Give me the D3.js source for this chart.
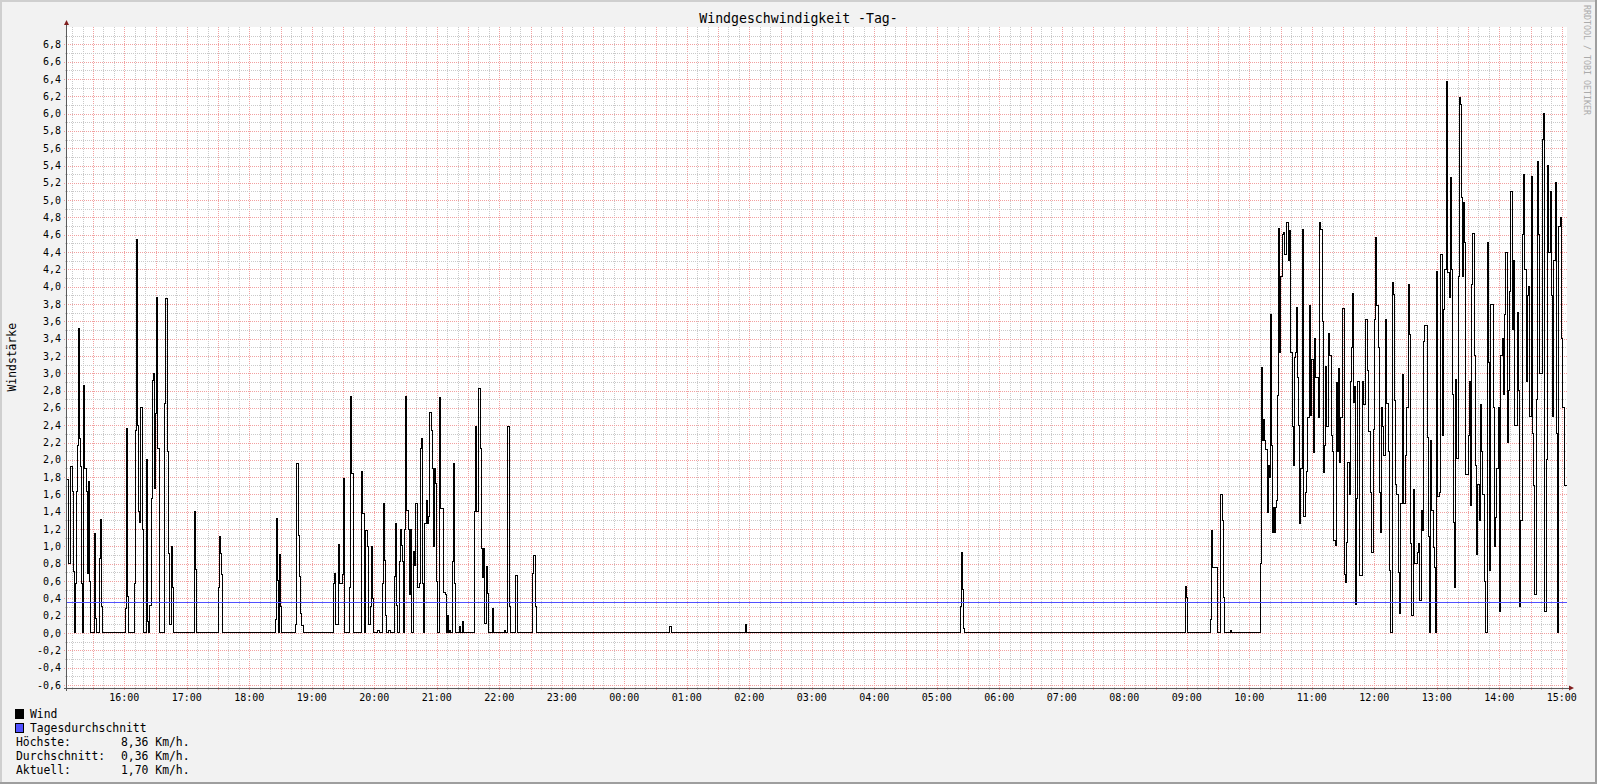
<!DOCTYPE html>
<html><head><meta charset="utf-8">
<script src="https://cdn.jsdelivr.net/npm/d3@7"></script>
<style>
html,body{margin:0;padding:0;background:#F2F2F2;}
svg{display:block;}
text{font-family:"DejaVu Sans Mono",monospace;fill:#000;}
</style></head><body>
<svg id="chart" width="1597" height="784"></svg>
<script>
// ---------------- data ----------------
const chartTitle = "Windgeschwindigkeit -Tag-";
const yAxisTitle = "Windstärke";
const watermark = "RRDTOOL / TOBI OETIKER";
const windowStart = [15, 5];      // 24 h window starts 15:05
const windowMinutes = 1440;
const yDomain = [-0.63, 7.0];
const yTicks = [-0.6,-0.4,-0.2,0.0,0.2,0.4,0.6,0.8,1.0,1.2,1.4,1.6,1.8,2.0,2.2,2.4,2.6,2.8,3.0,3.2,3.4,3.6,3.8,4.0,4.2,4.4,4.6,4.8,5.0,5.2,5.4,5.6,5.8,6.0,6.2,6.4,6.6,6.8];
const hourLabels = ["16:00","17:00","18:00","19:00","20:00","21:00","22:00","23:00","00:00","01:00","02:00","03:00","04:00","05:00","06:00","07:00","08:00","09:00","10:00","11:00","12:00","13:00","14:00","15:00"];
const dailyAverage = 0.36;
const legendNames = ["Wind", "Tagesdurchschnitt"];
const legendColors = ["#000000", "#5050ff"];
const statLabels = ["Höchste:", "Durchschnitt:", "Aktuell:"];
const statValues = ["8,36 Km/h.", "0,36 Km/h.", "1,70 Km/h."];
// wind: [minutes after window start, value] — value holds until next entry
const wind = [
 [0,1.77],[1,0.8],[3,1.92],[5,1.63],[6,0.71],[7,0],[8,0.57],[9,1.63],[10,2.17],[11,3.52],[12,2.25],[13,1.92],[14,0.57],[15,0],
 [16,2.86],[17,1.9],[19,1.63],[20,0.69],[21,1.75],[22,0.59],[23,0],[26,1.15],[27,0.17],[28,0],[31,0.86],[32,1.31],[33,0.3],[34,0],
 [56,0.28],[57,2.36],[58,0.42],[59,0],[65,0.57],[66,2.34],[67,4.55],[68,2.4],[69,1.4],[70,1.28],[71,2.6],[72,1.2],[73,0],
 [76,2.0],[77,0.13],[78,0],[79,0.32],[81,1.55],[82,2.92],[83,3.0],[84,1.67],[85,2.53],[86,3.88],[87,2.13],[89,0],
 [94,2.65],[95,3.86],[96,2.1],[97,0.92],[98,0.1],[100,1.0],[101,0.52],[102,0],[122,1.4],[123,0.73],[124,0],
 [145,0.52],[146,1.11],[147,0.92],[148,0.67],[149,0],
 [200,0.15],[201,1.32],[202,0.61],[203,0],[204,0.91],[205,0.3],[206,0],
 [219,0.1],[220,1.96],[222,1.13],[223,0.65],[224,0.23],[225,0.09],[227,0],
 [256,0.57],[257,0.69],[258,0.1],[261,1.02],[262,0.57],[264,0.67],[265,1.78],[266,0],[271,0.53],[272,2.73],[273,1.84],[275,0],
 [283,1.86],[284,1.38],[286,0],[287,1.18],[288,1.0],[289,0.1],[291,0.3],[292,1.0],[293,0.4],[294,0],[298,0.03],[300,0],[303,0.57],[304,1.5],
 [305,0.84],[306,0.2],[307,0],[309,0.03],[311,0],[314,0.65],[315,1.26],[316,0.32],[317,0],[319,0.82],[320,1.2],[321,1.01],[322,0.82],[323,0],
 [324,1.19],[325,2.73],[326,1.42],[328,1.2],[329,0.44],[330,1.2],[331,0],[333,0.94],[334,0.78],[335,1.5],[336,0.52],[338,0.57],[339,2.13],[340,2.25],[341,0.57],[342,0],
 [343,1.27],[345,1.53],[346,1.26],[347,1.35],[348,2.55],[350,2.34],[351,1.9],[352,1.0],[353,1.9],[354,1.73],[355,0.59],[356,0],
 [358,2.72],[359,1.44],[361,0.47],[363,0.44],[364,0],[365,0.2],[366,0],[367,0.03],[368,0],[370,0.82],[371,1.96],[372,0.57],[373,0],
 [377,0.07],[378,0],[380,0.13],[381,0],[391,1.4],[392,2.38],[393,1.4],[395,2.82],[397,2.13],[398,0.98],[399,0.64],[400,0.98],[401,0.11],
 [403,0.77],[404,0.46],[405,0],[408,0.28],[409,0],[420,0.03],[421,0],[423,2.38],[425,0.3],[426,0],[431,0.66],[432,0],
 [447,0.69],[448,0.89],[450,0.3],[451,0],
 [578,0.07],[580,0],[651,0.1],[652,0],[858,0.3],[859,0.93],[860,0.5],[861,0.05],[862,0],
 [1074,0.54],[1075,0.41],[1076,0],[1098,0.15],[1099,1.18],[1100,0.76],[1104,0],[1107,1.6],[1109,1.3],[1110,0.41],[1111,0],[1117,0.03],[1118,0],
 [1146,0.8],[1147,3.07],[1148,2.22],[1149,2.47],[1150,2.22],[1151,2.12],[1152,1.39],[1153,1.93],[1154,1.8],[1155,3.68],[1156,2.16],[1157,1.16],
 [1158,1.45],[1159,1.16],[1160,1.45],[1161,1.53],[1162,2.74],[1163,4.67],[1164,3.24],[1165,4.12],[1167,4.6],[1168,4.63],[1169,4.37],[1171,4.74],
 [1173,4.3],[1174,4.65],[1175,3.24],[1176,2.39],[1177,1.93],[1178,3.18],
 [1179,3.24],[1180,3.76],[1181,2.95],[1182,2.4],[1183,1.26],[1184,1.9],[1186,4.66],[1187,1.35],[1189,1.62],[1190,1.87],[1191,2.49],[1193,3.78],
 [1194,2.51],[1195,3.16],[1197,2.08],[1198,3.4],[1199,2.95],[1201,2.49],[1202,4.74],[1203,4.66],[1205,3.6],[1206,1.85],[1207,2.16],[1208,3.08],
 [1209,2.39],[1211,3.46],[1212,3.2],[1214,2.28],[1215,2.1],[1216,1.07],[1218,1.01],[1219,2.89],[1220,2.1],[1221,3.05],[1222,1.97],[1223,2.49],
 [1224,3.75],[1226,0.68],[1227,0.58],[1228,1.05],[1229,1.97],[1231,1.6],[1232,2.91],[1233,3.3],[1234,3.92],[1235,2.66],[1236,2.85],[1237,0.33],
 [1238,1.55],[1239,2.91],[1241,0.66],[1244,2.91],[1245,2.64],[1247,3.62],[1248,3.03],[1249,2.33],[1251,1.62],[1252,0.93],[1254,2.35],[1255,3.62],
 [1256,4.57],[1257,3.78],[1259,3.3],[1260,1.62],[1261,1.16],[1262,2.6],[1263,2.39],[1264,2.05],[1266,3.62],[1267,2.65],[1269,2.1],[1270,0.72],
 [1271,0],[1272,4.05],[1273,3.91],[1274,2.68],[1275,1.72],[1276,1.6],[1278,0.7],[1279,0.22],[1280,1.5],[1282,2.99],[1283,1.49],[1285,2.05],
 [1286,2.6],[1288,4.03],[1289,3.45],[1290,1.03],[1291,0.2],[1293,1.66],[1294,0.8],[1296,0.93],[1297,1.03],[1298,0.37],[1300,1.41],[1301,1.18],
 [1302,3.37],[1303,3.55],[1306,2.26],[1307,1.12],[1308,0.0],[1309,2.22],[1310,1.41],[1312,0.99],[1313,0.76],[1314,0],[1315,4.17],[1316,1.58],
 [1318,1.62],[1319,4.37],[1320,2.28],[1321,3.74],[1322,4.2],[1324,6.37],[1325,4.16],[1327,3.87],[1328,5.26],[1329,4.2],[1330,2.76],[1331,1.28],
 [1332,0.53],[1333,2.93],[1334,2.01],[1336,4.12],[1337,6.18],[1338,6.1],[1339,5.03],[1340,4.12],[1341,4.97],[1342,4.51],[1343,1.83],[1345,2.28],
 [1346,2.91],[1347,1.47],[1348,4.03],[1349,4.62],[1351,3.2],[1352,1.93],[1353,0.91],[1354,1.72],[1356,1.3],[1357,2.64],[1358,2.1],[1359,1.6],
 [1361,0.6],[1362,0],[1364,4.51],[1365,3.12],[1366,0.72],[1367,3.8],[1369,2.6],[1370,1.0],[1371,1.33],[1372,1.9],[1374,2.6],[1375,0.25],
 [1376,3.2],[1378,3.4],[1379,2.75],[1380,3.68],[1381,4.4],[1383,2.2],[1384,2.8],[1385,3.95],[1386,5.1],[1388,3.5],[1389,4.3],[1390,2.4],
 [1392,3.7],[1393,2.8],[1394,0.3],[1395,1.3],[1397,4.6],[1398,5.3],[1399,4.2],[1401,2.9],[1402,3.9],[1403,4.0],[1404,2.5],[1406,5.27],
 [1407,2.3],[1408,1.7],[1409,0.45],[1411,2.7],[1412,5.45],[1413,4.6],[1414,3.0],[1416,5.7],[1417,6.0],[1418,0.25],[1420,2.0],[1421,5.4],
 [1422,4.4],[1424,5.1],[1425,3.9],[1426,2.5],[1427,4.3],[1429,5.2],[1430,2.3],[1431,0.0],[1432,4.7],[1434,4.8],[1435,3.4],[1436,2.6],[1438,1.7]
];

// ---------------- drawing ----------------
const W = 1597, H = 784;
const plot = {left: 67, right: 1567, top: 27, bottom: 687.5};
const t0 = new Date(2021, 5, 1, windowStart[0], windowStart[1]);
const t1 = d3.timeMinute.offset(t0, windowMinutes);
const tAt = m => d3.timeMinute.offset(t0, m);

const x = d3.scaleTime().domain([t0, t1]).range([plot.left, plot.right]);
const y = d3.scaleLinear().domain(yDomain).range([plot.bottom, plot.top]);
const fmt = d3.formatLocale({decimal: ",", thousands: ".", grouping: [3], currency: ["", ""], minus: "-"}).format(".1f");
const px = v => Math.round(v) + 0.5;

const svg = d3.select("#chart");
svg.append("rect").attr("width", W).attr("height", H).attr("fill", "#F2F2F2");
svg.append("rect").attr("x", 0).attr("y", 0).attr("width", W).attr("height", 2).attr("fill", "#CFCFCF");
svg.append("rect").attr("x", 0).attr("y", 0).attr("width", 2).attr("height", H).attr("fill", "#CFCFCF");
svg.append("rect").attr("x", 0).attr("y", H - 2).attr("width", W).attr("height", 2).attr("fill", "#9E9E9E");
svg.append("rect").attr("x", W - 2).attr("y", 0).attr("width", 2).attr("height", H).attr("fill", "#9E9E9E");

svg.append("rect").attr("x", plot.left).attr("y", plot.top)
  .attr("width", plot.right - plot.left).attr("height", plot.bottom - plot.top).attr("fill", "#FFFFFF");

const minorCol = "#c9c9c9", majorCol = "#f2a0a0";
const grid = svg.append("g").attr("shape-rendering", "crispEdges").attr("stroke-dasharray", "1,1").attr("fill", "none");

// vertical grid
const minorT = d3.timeMinute.every(10).range(t0, t1);
const majorT = d3.timeMinute.every(30).range(t0, t1);
const majorSet = new Set(majorT.map(d => +d));
grid.selectAll("line.vmin").data(minorT.filter(d => !majorSet.has(+d))).join("line")
  .attr("x1", d => px(x(d))).attr("x2", d => px(x(d)))
  .attr("y1", plot.top).attr("y2", plot.bottom + 2).attr("stroke", minorCol);
grid.selectAll("line.vmaj").data(majorT).join("line")
  .attr("x1", d => px(x(d))).attr("x2", d => px(x(d)))
  .attr("y1", plot.top).attr("y2", plot.bottom + 3).attr("stroke", majorCol);

// horizontal grid
const minorY = yTicks.slice(0, -1).map((v, i) => (v + yTicks[i + 1]) / 2).concat([yTicks[yTicks.length - 1] + 0.1]);
grid.selectAll("line.hmin").data(minorY).join("line")
  .attr("y1", d => px(y(d))).attr("y2", d => px(y(d)))
  .attr("x1", plot.left - 2).attr("x2", plot.right).attr("stroke", minorCol);
grid.selectAll("line.hmaj").data(yTicks).join("line")
  .attr("y1", d => px(y(d))).attr("y2", d => px(y(d)))
  .attr("x1", plot.left - 3).attr("x2", plot.right).attr("stroke", majorCol);

// axes
const axisCol = "#5a5a5a";
svg.append("line").attr("x1", plot.left - 3).attr("x2", plot.right + 2)
  .attr("y1", px(plot.bottom)).attr("y2", px(plot.bottom)).attr("stroke", axisCol).attr("shape-rendering", "crispEdges");
svg.append("line").attr("x1", plot.left - 0.5).attr("x2", plot.left - 0.5)
  .attr("y1", plot.bottom + 3).attr("y2", plot.top - 3).attr("stroke", axisCol).attr("shape-rendering", "crispEdges");
svg.append("path").attr("fill", "#801F1F")
  .attr("d", `M${plot.left - 3},${plot.top - 2} L${plot.left + 2},${plot.top - 2} L${plot.left - 0.5},${plot.top - 7} Z`);
svg.append("path").attr("fill", "#801F1F")
  .attr("d", `M${plot.right + 2},${plot.bottom - 2} L${plot.right + 2},${plot.bottom + 3} L${plot.right + 7},${plot.bottom + 0.5} Z`);

// y labels
svg.append("g").selectAll("text").data(yTicks).join("text")
  .attr("x", 61).attr("y", d => y(d) + 3.6).attr("text-anchor", "end")
  .style("font-size", "10px").text(d => fmt(d));

// x labels
const hours = d3.timeHour.range(t0, t1);
svg.append("g").selectAll("text").data(hours).join("text")
  .attr("x", d => x(d)).attr("y", 701).attr("text-anchor", "middle")
  .style("font-size", "10px").text((d, i) => hourLabels[i]);

// wind line
const pts = wind.map(([m, v]) => [tAt(m), v]).concat([[t1, wind[wind.length - 1][1]]]);
const line = d3.line().x(d => x(d[0])).y(d => y(d[1])).curve(d3.curveStepAfter);
svg.append("path").datum(pts).attr("d", line).attr("fill", "none")
  .attr("stroke", legendColors[0]).attr("stroke-width", 1).attr("shape-rendering", "crispEdges");

// average line
svg.append("line").attr("x1", plot.left).attr("x2", plot.right)
  .attr("y1", px(y(dailyAverage))).attr("y2", px(y(dailyAverage)))
  .attr("stroke", legendColors[1]).attr("stroke-width", 1).attr("shape-rendering", "crispEdges");

// title
svg.append("text").attr("x", W / 2).attr("y", 23).attr("text-anchor", "middle")
  .style("font-size", "13.2px").text(chartTitle);
// y title
svg.append("text").attr("transform", `translate(15.5,${(plot.top + plot.bottom) / 2}) rotate(-90)`)
  .attr("text-anchor", "middle").style("font-size", "11.4px").text(yAxisTitle);
// watermark
svg.append("text").attr("transform", "translate(1584,5) rotate(90)")
  .style("font-size", "8.3px").style("fill", "#ababab").text(watermark);

// legend
const leg = svg.append("g");
legendNames.forEach((n, i) => {
  leg.append("rect").attr("x", 15.5).attr("y", 709.5 + i * 14).attr("width", 8).attr("height", 9)
    .attr("fill", legendColors[i]).attr("stroke", "#000").attr("stroke-width", 1);
  leg.append("text").attr("x", 30).attr("y", 718 + i * 14).style("font-size", "11.4px").text(n);
});
statLabels.forEach((s, i) => {
  leg.append("text").attr("x", 16).attr("y", 746 + i * 13.8).style("font-size", "11.4px").text(s);
  leg.append("text").attr("x", 121).attr("y", 746 + i * 13.8).style("font-size", "11.4px").text(statValues[i]);
});
</script>
</body></html>
